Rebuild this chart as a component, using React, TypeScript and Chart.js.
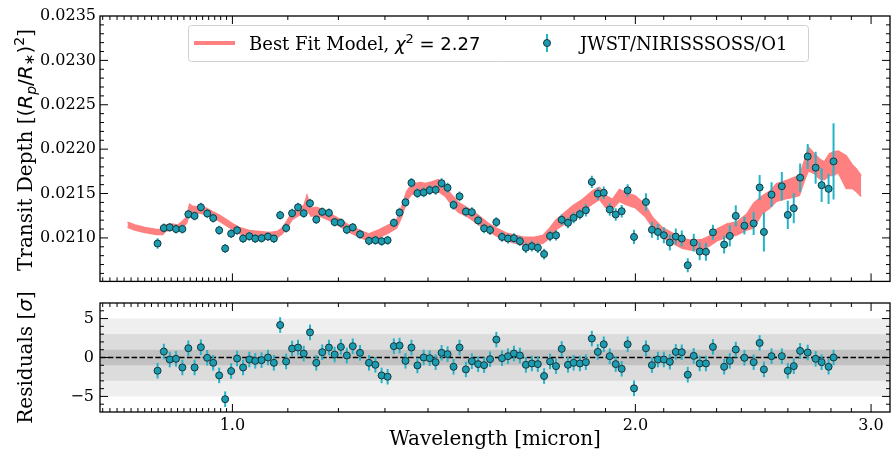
import React, { useEffect, useRef } from "react";
import { Chart, registerables } from "chart.js";
Chart.register(...registerables);

// ---------------- data ----------------
const wavelength = [
  0.8792, 0.8887, 0.8978, 0.9075, 0.9175, 0.927, 0.937, 0.9472, 0.9576, 0.9675,
  0.9775, 0.9876, 0.9978, 1.0081, 1.0185, 1.0295, 1.0401, 1.0514, 1.063, 1.0739,
  1.0856, 1.0968, 1.1081, 1.1195, 1.1305, 1.1428, 1.1552, 1.1671, 1.1806, 1.1922,
  1.2051, 1.2175, 1.23, 1.2455, 1.2648, 1.2788, 1.2926, 1.306, 1.3201, 1.3331,
  1.3468, 1.3607, 1.3747, 1.3896, 1.404, 1.4185, 1.4331, 1.4479, 1.4629, 1.478,
  1.4942, 1.5097, 1.526, 1.5418, 1.5577, 1.5746, 1.59, 1.6064, 1.623, 1.6397,
  1.6567, 1.6738, 1.6911, 1.7094, 1.727, 1.7449, 1.762, 1.7811, 1.7985, 1.818,
  1.8368, 1.8557, 1.8749, 1.8942, 1.9138, 1.9335, 1.9535, 1.9736, 1.9954, 2.0368,
  2.0578, 2.079, 2.1005, 2.1222, 2.1441, 2.1662, 2.1886, 2.2112, 2.234, 2.2582,
  2.2854, 2.33, 2.3528, 2.3771, 2.4127, 2.4514, 2.4767, 2.4949, 2.528, 2.573,
  2.5996, 2.6264, 2.6553, 2.6901, 2.7272, 2.7554, 2.7886, 2.8125,
];

const depth = [
  0.020937, 0.021111, 0.021119, 0.0211, 0.0211, 0.021267, 0.021248, 0.021345, 0.021275, 0.021223,
  0.021086, 0.020881, 0.021048, 0.021086, 0.020993, 0.021019, 0.020993, 0.020997, 0.021015, 0.020993,
  0.021256, 0.021111, 0.021278, 0.021345, 0.021278, 0.02139, 0.021208, 0.021293, 0.021282, 0.021178,
  0.02117, 0.021092, 0.021119, 0.021041, 0.020967, 0.020974, 0.020963, 0.020974, 0.02117, 0.021286,
  0.021401, 0.02162, 0.021504, 0.021512, 0.021538, 0.021542, 0.021616, 0.021565, 0.021371, 0.021468,
  0.021297, 0.02129, 0.021197, 0.021108, 0.021089, 0.021178, 0.021011, 0.020993, 0.020997, 0.020963,
  0.020889, 0.020907, 0.020889, 0.020818, 0.021022, 0.02103, 0.021204, 0.02117, 0.021226, 0.021267,
  0.021312, 0.021631, 0.021498, 0.021509, 0.02132, 0.021264, 0.021301, 0.021535, 0.021011, 0.021404,
  0.021092, 0.021067, 0.02103, 0.020948, 0.021015, 0.020993, 0.020692, 0.020948, 0.020847, 0.020844,
  0.021063, 0.020925, 0.021022, 0.021248, 0.021137, 0.021163, 0.021568, 0.021067, 0.021487, 0.021582,
  0.021259, 0.021334, 0.021679, 0.021917, 0.021791, 0.021594, 0.021553, 0.021862,
];

const depthErr = [
  0.00006, 0.00005, 0.00005, 0.00005, 0.00005, 0.00005, 0.00005, 0.00005, 0.00005, 0.00005,
  0.00005, 0.00005, 0.00005, 0.00005, 0.00005, 0.00005, 0.00005, 0.00005, 0.00005, 0.00005,
  0.00005, 0.00005, 0.00005, 0.00005, 0.00005, 0.00005, 0.00005, 0.00005, 0.00005, 0.00005,
  0.00005, 0.00005, 0.00005, 0.00005, 0.00005, 0.00005, 0.00005, 0.00005, 0.00005, 0.000055,
  0.000055, 0.000055, 0.000055, 0.000055, 0.000055, 0.000055, 0.000055, 0.000055, 0.000055, 0.000055,
  0.000055, 0.000055, 0.000055, 0.000055, 0.000055, 0.000055, 0.000055, 0.000055, 0.000055, 0.000055,
  0.00006, 0.00006, 0.00006, 0.00006, 0.00006, 0.00006, 0.00006, 0.00006, 0.00006, 0.00006,
  0.00007, 0.00007, 0.00007, 0.00007, 0.00007, 0.00007, 0.00007, 0.00007, 0.00008, 0.0001,
  0.00009, 0.00009, 0.00009, 0.00009, 0.00009, 0.00009, 0.00008, 0.0001, 0.0001, 0.0001,
  0.000085, 0.0001, 0.00012, 0.00012, 0.0001, 0.00013, 0.00014, 0.00022, 0.00014, 0.00016,
  0.00016, 0.00017, 0.00016, 0.00014, 0.00018, 0.00019, 0.00017, 0.00043,
];

const residual = [
  -1.7, 0.77, -0.26, -0.17, -1.28, 1.19, -1.28, 1.32, -0.04, -0.68,
  -2.3, -5.36, -1.74, -0.13, -1.28, -0.26, -0.43, -0.34, 0.0, -0.68,
  4.17, -0.51, 1.15, 1.28, 0.51, 3.23, -0.68, 0.68, 1.28, 0.38,
  1.36, 0.26, 1.45, 0.6, -0.68, -0.94, -2.3, -2.47, 1.45, 1.53,
  -0.43, 1.28, -1.02, 0.0, -0.09, -0.6, 0.6, 0.43, -1.19, 1.28,
  -1.53, -0.47, -0.85, -0.98, -0.21, 2.3, -0.09, 0.17, 0.51, 0.26,
  -0.94, -0.77, -0.85, -2.38, -0.51, -1.11, 1.11, -0.94, -0.68, -0.77,
  -0.6, 2.43, 0.72, 1.7, 0.17, -0.85, -1.45, 1.7, -3.96, 1.19,
  -0.98, -0.26, -0.26, -0.55, 0.72, 0.68, -2.21, 0.21, -0.77, -0.77,
  1.36, -1.19, -0.43, 1.02, -0.04, -0.6, 1.87, -1.53, 0.17, 0.17,
  -1.7, -1.11, 0.85, 0.64, -0.17, -0.6, -1.19, 0.0,
];
const RESIDUAL_ERR = 1;

const modelWavelength = [
  0.8349, 0.8455, 0.8601, 0.8777, 0.8871, 0.8917, 0.901, 0.9102, 0.918, 0.9243,
  0.929, 0.9338, 0.9451, 0.9565, 0.9664, 0.978, 0.9898, 1.0, 1.012, 1.0295,
  1.0473, 1.0654, 1.08, 1.0893, 1.0987, 1.1081, 1.1215, 1.1311, 1.1369, 1.1447,
  1.1546, 1.1665, 1.1806, 1.201, 1.2216, 1.2428, 1.2642, 1.286, 1.3083, 1.3264,
  1.3378, 1.3493, 1.3607, 1.3701, 1.3819, 1.3938, 1.4081, 1.4252, 1.4423, 1.4572,
  1.4748, 1.5003, 1.526, 1.5524, 1.5792, 1.601, 1.6288, 1.6482, 1.6767, 1.7057,
  1.7262, 1.7441, 1.7651, 1.7955, 1.8265, 1.858, 1.8804, 1.8998, 1.9227, 1.9458,
  1.9658, 1.9999, 2.0344, 2.0589, 2.0944, 2.1306, 2.1674, 2.2052, 2.2432, 2.2699,
  2.3011, 2.3407, 2.3812, 2.4223, 2.4514, 2.4855, 2.5194, 2.5502, 2.5937, 2.6249,
  2.6521, 2.6749, 2.6933, 2.7212, 2.7447, 2.7683, 2.7921, 2.8112, 2.8354, 2.8746,
  2.9042, 2.9242, 2.9494,
];
const modelUpper = [
  0.021176, 0.021145, 0.021117, 0.021095, 0.021095, 0.021145, 0.021156, 0.021145, 0.021189, 0.021234,
  0.021379, 0.021356, 0.021345, 0.021334, 0.021295, 0.021256, 0.021206, 0.021161, 0.021117, 0.021084,
  0.021072, 0.021061, 0.021072, 0.021111, 0.021195, 0.021284, 0.021334, 0.021367, 0.021479, 0.021334,
  0.021345, 0.021323, 0.021278, 0.021217, 0.021145, 0.021089, 0.021045, 0.021089, 0.021145, 0.0212,
  0.021345, 0.021523, 0.021601, 0.021612, 0.021624, 0.021612, 0.021629, 0.021657, 0.021579, 0.02149,
  0.021401, 0.021334, 0.021256, 0.021167, 0.0211, 0.021056, 0.021028, 0.021011, 0.021006, 0.021028,
  0.021111, 0.0212, 0.021267, 0.021362, 0.021434, 0.021529, 0.021568, 0.021479, 0.021434, 0.021546,
  0.021512, 0.021473, 0.021373, 0.021234, 0.021117, 0.021056, 0.020994, 0.020972, 0.020983, 0.021017,
  0.0211, 0.021156, 0.021178, 0.021267, 0.02139, 0.021468, 0.021523, 0.021612, 0.021646, 0.021679,
  0.021702, 0.021869, 0.022024, 0.021947, 0.021891, 0.021857, 0.021947, 0.021969, 0.02198, 0.021924,
  0.021824, 0.02178, 0.021702,
];
const modelLower = [
  0.02112, 0.021089, 0.021061, 0.021039, 0.021039, 0.021078, 0.021089, 0.021078, 0.021122, 0.021167,
  0.02129, 0.02129, 0.021278, 0.021267, 0.021228, 0.021189, 0.021139, 0.021095, 0.02105, 0.021017,
  0.021006, 0.020994, 0.021006, 0.021045, 0.021117, 0.021206, 0.021256, 0.021278, 0.021323, 0.021245,
  0.021256, 0.021234, 0.0212, 0.021139, 0.021067, 0.021011, 0.020967, 0.021, 0.021056, 0.021111,
  0.021234, 0.021412, 0.02149, 0.021501, 0.02149, 0.021501, 0.021518, 0.021523, 0.021468, 0.021379,
  0.02129, 0.021234, 0.021156, 0.021078, 0.021011, 0.020967, 0.020939, 0.020922, 0.020916, 0.020939,
  0.021, 0.021089, 0.021145, 0.021228, 0.021301, 0.021384, 0.021434, 0.021345, 0.021323, 0.021412,
  0.021379, 0.02134, 0.021239, 0.021122, 0.021006, 0.020944, 0.020883, 0.020861, 0.020872, 0.020905,
  0.020967, 0.021011, 0.021033, 0.021089, 0.021111, 0.021267, 0.021334, 0.021412, 0.021445, 0.021457,
  0.021479, 0.021646, 0.021757, 0.021724, 0.021668, 0.021657, 0.021702, 0.021702, 0.021735, 0.021557,
  0.021557, 0.021523, 0.021468,
];

const depthTicks = [0.021, 0.0215, 0.022, 0.0225, 0.023, 0.0235];
const residualTicks = [-5, 0, 5];
const residualTickLabels = ["\u22125", "0", "5"];
const wavelengthTicks = [1.0, 2.0, 3.0];
const wavelengthTickLabels = ["1.0", "2.0", "3.0"];
const sigmaBands = [5, 3, 1];
const sigmaBandColors = ["#efefef", "#dcdcdc", "#c2c2c2"];

const modelLabel = "Best Fit Model, ";
const chiLabel = "2.27";
const dataLabel = "JWST/NIRISSSOSS/O1";

// ---------------- styles ----------------
const SERIF = "'DejaVu Serif', serif";
const SANS = "'DejaVu Sans', sans-serif";
const MODEL_COLOR = "#ff8080";
const POINT_FILL = "#1b9cb1";
const POINT_EDGE = "#15363c";
const ERR_COLOR = "#22b4c9";
const X_MIN = 0.7963;
const X_MAX = 3.0993;
const W = 895;
const H = 454;
const TOP_H = 295;
const BOT_TOP = 287;
const BOT_H = H - BOT_TOP;

const xMinor: number[] = [];
for (let k = 80; k < 100; k++) xMinor.push(k / 100);
for (let k = 11; k < 31; k++) if (k % 10 !== 0) xMinor.push(k / 10);
const depthMinor: number[] = [];
for (let k = 205; k <= 235; k++) if (k % 5 !== 0) depthMinor.push(k / 10000);
const residualMinor: number[] = [];
for (let k = -7; k <= 7; k++) if (k % 5 !== 0) residualMinor.push(k);

type Part = { t: string; f: string; dy?: number };

function drawRich(ctx: CanvasRenderingContext2D, parts: Part[], x: number, y: number, rotate: boolean, center: boolean) {
  ctx.save();
  ctx.translate(x, y);
  if (rotate) ctx.rotate(-Math.PI / 2);
  ctx.textBaseline = "alphabetic";
  ctx.textAlign = "left";
  ctx.fillStyle = "#000";
  const widths = parts.map((p) => {
    ctx.font = p.f;
    return ctx.measureText(p.t).width;
  });
  const total = widths.reduce((a, b) => a + b, 0);
  let cx = center ? -total / 2 : 0;
  parts.forEach((p, i) => {
    ctx.font = p.f;
    ctx.fillText(p.t, cx, p.dy || 0);
    cx += widths[i];
  });
  ctx.restore();
}

function line(ctx: CanvasRenderingContext2D, x1: number, y1: number, x2: number, y2: number) {
  ctx.beginPath();
  ctx.moveTo(x1, y1);
  ctx.lineTo(x2, y2);
  ctx.stroke();
}

function drawFrame(chart: any, yMajor: number[], yMinor: number[]) {
  const { ctx, chartArea: a } = chart;
  const xs = chart.scales.x;
  const ys = chart.scales.y;
  ctx.save();
  ctx.strokeStyle = "#000";
  ctx.lineWidth = 1;
  const xt = (v: number, len: number) => {
    const p = xs.getPixelForValue(v);
    if (p < a.left + 1 || p > a.right - 1) return;
    line(ctx, p, a.bottom, p, a.bottom - len);
    line(ctx, p, a.top, p, a.top + len);
  };
  const yt = (v: number, len: number) => {
    const p = ys.getPixelForValue(v);
    if (p < a.top + 1 || p > a.bottom - 1) return;
    line(ctx, a.left, p, a.left + len, p);
    line(ctx, a.right, p, a.right - len, p);
  };
  wavelengthTicks.forEach((v) => xt(v, 8));
  xMinor.forEach((v) => xt(v, 4));
  yMajor.forEach((v) => yt(v, 8));
  yMinor.forEach((v) => yt(v, 4));
  ctx.lineWidth = 1.3;
  ctx.strokeRect(a.left, a.top, a.right - a.left, a.bottom - a.top);
  ctx.restore();
}

function drawErrorBars(chart: any, ys: number[], errs: (i: number) => number) {
  const { ctx, chartArea: a } = chart;
  const xs = chart.scales.x;
  const yScale = chart.scales.y;
  ctx.save();
  ctx.beginPath();
  ctx.rect(a.left, a.top, a.right - a.left, a.bottom - a.top);
  ctx.clip();
  ctx.strokeStyle = ERR_COLOR;
  ctx.lineWidth = 2;
  wavelength.forEach((w, i) => {
    const px = xs.getPixelForValue(w);
    line(ctx, px, yScale.getPixelForValue(ys[i] - errs(i)), px, yScale.getPixelForValue(ys[i] + errs(i)));
  });
  ctx.restore();
}

function drawLegend(ctx: CanvasRenderingContext2D) {
  ctx.save();
  const x0 = 188.5, y0 = 25.5, w = 620, h = 36, r = 3;
  ctx.beginPath();
  ctx.moveTo(x0 + r, y0);
  ctx.arcTo(x0 + w, y0, x0 + w, y0 + h, r);
  ctx.arcTo(x0 + w, y0 + h, x0, y0 + h, r);
  ctx.arcTo(x0, y0 + h, x0, y0, r);
  ctx.arcTo(x0, y0, x0 + w, y0, r);
  ctx.closePath();
  ctx.fillStyle = "rgba(255,255,255,0.8)";
  ctx.fill();
  ctx.strokeStyle = "#d0d0d0";
  ctx.lineWidth = 1;
  ctx.stroke();
  const cy = 43;
  ctx.strokeStyle = MODEL_COLOR;
  ctx.lineWidth = 4;
  line(ctx, 194, cy, 235, cy);
  drawRich(
    ctx,
    [
      { t: modelLabel, f: `18px ${SERIF}` },
      { t: "\u03c7", f: `oblique 18px ${SANS}` },
      { t: "2", f: `13px ${SANS}`, dy: -7 },
      { t: " = " + chiLabel, f: `18px ${SANS}` },
    ],
    249, 50, false, false
  );
  ctx.strokeStyle = ERR_COLOR;
  ctx.lineWidth = 2;
  line(ctx, 547, cy - 9, 547, cy + 9);
  ctx.beginPath();
  ctx.arc(547, cy, 3.5, 0, Math.PI * 2);
  ctx.fillStyle = POINT_FILL;
  ctx.fill();
  ctx.strokeStyle = POINT_EDGE;
  ctx.lineWidth = 1;
  ctx.stroke();
  drawRich(ctx, [{ t: dataLabel, f: `18px ${SERIF}` }], 580, 50, false, false);
  ctx.restore();
}

const topPlugin = {
  id: "topPanel",
  beforeDatasetDraw(chart: any, args: any) {
    if (args.index === 2) drawErrorBars(chart, depth, (i) => depthErr[i]);
  },
  afterDraw(chart: any) {
    drawLegend(chart.ctx);
    drawFrame(chart, depthTicks, depthMinor);
    drawRich(
      chart.ctx,
      [
        { t: "Transit Depth [", f: `20px ${SERIF}` },
        { t: "(", f: `20px ${SANS}` },
        { t: "R", f: `oblique 20px ${SANS}` },
        { t: "p", f: `oblique 14px ${SANS}`, dy: 4 },
        { t: "/", f: `20px ${SANS}` },
        { t: "R", f: `oblique 20px ${SANS}` },
        { t: "\u2217", f: `14px ${SANS}`, dy: 2 },
        { t: ")", f: `20px ${SANS}` },
        { t: "2", f: `14px ${SANS}`, dy: -8 },
        { t: "]", f: `20px ${SERIF}` },
      ],
      32, 150, true, true
    );
  },
};

const bottomPlugin = {
  id: "bottomPanel",
  beforeDatasetsDraw(chart: any) {
    const { ctx, chartArea: a } = chart;
    const ys = chart.scales.y;
    ctx.save();
    sigmaBands.forEach((s, i) => {
      ctx.fillStyle = sigmaBandColors[i];
      const t = ys.getPixelForValue(s);
      const b = ys.getPixelForValue(-s);
      ctx.fillRect(a.left, t, a.right - a.left, b - t);
    });
    ctx.strokeStyle = "#000";
    ctx.lineWidth = 1.5;
    ctx.setLineDash([5.5, 2.4]);
    const z = ys.getPixelForValue(0);
    line(ctx, a.left, z, a.right, z);
    ctx.restore();
  },
  beforeDatasetDraw(chart: any, args: any) {
    if (args.index === 0) drawErrorBars(chart, residual, () => RESIDUAL_ERR);
  },
  afterDraw(chart: any) {
    drawFrame(chart, residualTicks, residualMinor);
    const a = chart.chartArea;
    drawRich(
      chart.ctx,
      [
        { t: "Residuals [", f: `20px ${SERIF}` },
        { t: "\u03c3", f: `oblique 20px ${SANS}` },
        { t: "]", f: `20px ${SERIF}` },
      ],
      32, (a.top + a.bottom) / 2, true, true
    );
  },
};

export default function App() {
  const topRef = useRef<HTMLCanvasElement>(null);
  const botRef = useRef<HTMLCanvasElement>(null);

  useEffect(() => {
    Chart.defaults.font.family = SERIF;
    Chart.defaults.color = "#000";
    const pts = wavelength.map((w, i) => ({ x: w, y: depth[i] }));
    const top = new Chart(topRef.current as HTMLCanvasElement, {
      type: "line",
      data: {
        datasets: [
          {
            label: "modelUpper",
            data: modelWavelength.map((w, i) => ({ x: w, y: modelUpper[i] })),
            borderColor: MODEL_COLOR,
            backgroundColor: MODEL_COLOR,
            borderWidth: 1.5,
            pointRadius: 0,
            fill: "+1",
            tension: 0,
            order: 2,
          },
          {
            label: "modelLower",
            data: modelWavelength.map((w, i) => ({ x: w, y: modelLower[i] })),
            borderColor: MODEL_COLOR,
            backgroundColor: MODEL_COLOR,
            borderWidth: 1.5,
            pointRadius: 0,
            fill: false,
            tension: 0,
            order: 2,
          },
          {
            label: dataLabel,
            data: pts,
            showLine: false,
            pointRadius: 3.5,
            pointBackgroundColor: POINT_FILL,
            pointBorderColor: POINT_EDGE,
            pointBorderWidth: 1,
            order: 1,
          },
        ],
      },
      options: {
        animation: false,
        responsive: false,
        devicePixelRatio: 1,
        layout: { padding: { top: 16, right: 1, bottom: 11, left: 0 } },
        plugins: { legend: { display: false }, tooltip: { enabled: false } },
        scales: {
          x: { type: "logarithmic", min: X_MIN, max: X_MAX, display: false },
          y: {
            type: "linear",
            min: 0.02051,
            max: 0.0235,
            grid: { display: false, drawTicks: false },
            border: { display: false },
            afterBuildTicks: (s: any) => {
              s.ticks = depthTicks.map((v) => ({ value: v }));
            },
            afterFit: (s: any) => {
              s.width = 100;
            },
            ticks: {
              padding: 4,
              font: { size: 16, family: SERIF },
              color: "#000",
              callback: (v: any) => Number(v).toFixed(4),
            },
          },
        },
      } as any,
      plugins: [topPlugin as any],
    });

    const bot = new Chart(botRef.current as HTMLCanvasElement, {
      type: "line",
      data: {
        datasets: [
          {
            label: "residual",
            data: wavelength.map((w, i) => ({ x: w, y: residual[i] })),
            showLine: false,
            pointRadius: 3.5,
            pointBackgroundColor: POINT_FILL,
            pointBorderColor: POINT_EDGE,
            pointBorderWidth: 1,
          },
        ],
      },
      options: {
        animation: false,
        responsive: false,
        devicePixelRatio: 1,
        layout: { padding: { top: 303 - BOT_TOP, right: 1, bottom: 0, left: 0 } },
        plugins: { legend: { display: false }, tooltip: { enabled: false } },
        scales: {
          x: {
            type: "logarithmic",
            min: X_MIN,
            max: X_MAX,
            grid: { display: false, drawTicks: false },
            border: { display: false },
            afterBuildTicks: (s: any) => {
              s.ticks = wavelengthTicks.map((v) => ({ value: v }));
            },
            afterFit: (s: any) => {
              s.height = 42;
            },
            ticks: {
              padding: 4,
              autoSkip: false,
              maxRotation: 0,
              font: { size: 16, family: SERIF },
              color: "#000",
              callback: (_v: any, i: number) => wavelengthTickLabels[i],
            },
            title: {
              display: true,
              text: "Wavelength [micron]",
              font: { size: 20, family: SERIF },
              color: "#000",
              padding: { top: 0, bottom: 2 },
            },
          },
          y: {
            type: "linear",
            min: -7,
            max: 7,
            grid: { display: false, drawTicks: false },
            border: { display: false },
            afterBuildTicks: (s: any) => {
              s.ticks = residualTicks.map((v) => ({ value: v }));
            },
            afterFit: (s: any) => {
              s.width = 100;
            },
            ticks: {
              padding: 6,
              font: { size: 16, family: SERIF },
              color: "#000",
              callback: (_v: any, i: number) => residualTickLabels[i],
            },
          },
        },
      } as any,
      plugins: [bottomPlugin as any],
    });

    return () => {
      top.destroy();
      bot.destroy();
    };
  }, []);

  return (
    <div style={{ position: "absolute", left: 0, top: 0, width: W, height: H, background: "#fff" }}>
      <canvas ref={topRef} width={W} height={TOP_H} style={{ position: "absolute", left: 0, top: 0, display: "block" }} />
      <canvas ref={botRef} width={W} height={BOT_H} style={{ position: "absolute", left: 0, top: BOT_TOP, display: "block" }} />
    </div>
  );
}
